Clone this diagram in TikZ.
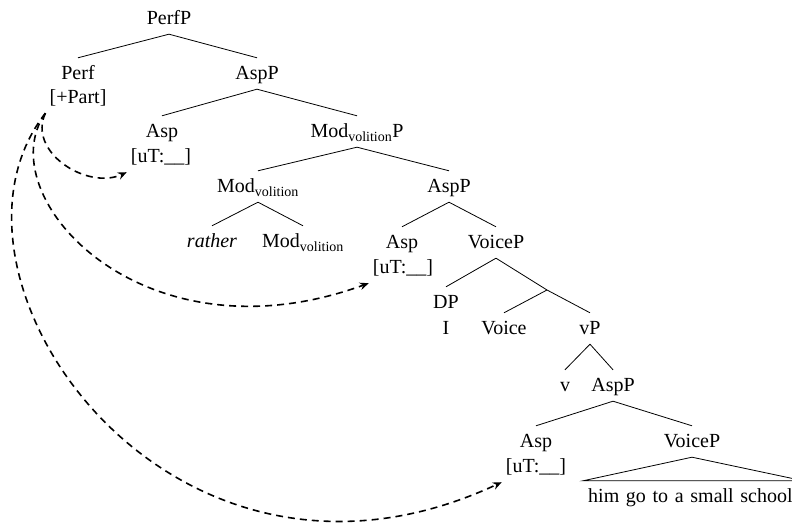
\documentclass[tikz,border=0pt]{standalone}
\usepackage{fontspec}
\setmainfont{Liberation Serif}
\usetikzlibrary{arrows.meta, positioning}

\begin{document}
\begin{tikzpicture}[
    x=1pt, y=1pt,
    cat/.style={anchor=base, font=\fontsize{20}{24}\selectfont, inner xsep=4pt, inner ysep=5pt, text height=17pt, text depth=4pt},
    branch/.style={line width=0.8pt},
    move/.style={-{Stealth[length=9pt, width=7.5pt, inset=3pt]}, line width=1.6pt, dash pattern=on 7pt off 5pt},
    every node/.style={cat}
]
\useasboundingbox (0,0) rectangle (792,529);

% Top: PerfP and its daughters
\node (perfp) at (169,504) {PerfP};
\node (perf) at (78,449) {Perf};
\node (perffeat) at (78,425) {[+Part]};
\node (aspp) at (257,449) {AspP};

\draw[branch] (perfp.south) -- (perf.north);
\draw[branch] (perfp.south) -- (aspp.north);

% AspP: Asp and Mod_volition P
\node (asp) at (162,391) {Asp};
\node (aspfeat) at (161,366) {[uT:\_\_]};
\node (modp) at (357,391) {Mod\textsubscript{volition}P};

\draw[branch] (aspp.south) -- (asp.north);
\draw[branch] (aspp.south) -- (modp.north);

% Mod_volition P
\node (mod) at (258,336) {Mod\textsubscript{volition}};
\node (aspptwo) at (449,336) {AspP};
\node (rather) at (212,281) {\textit{rather}};
\node (modhead) at (303,281) {Mod\textsubscript{volition}};

\draw[branch] (modp.south) -- (mod.north);
\draw[branch] (modp.south) -- (aspptwo.north);
\draw[branch] (mod.south) -- (rather.north);
\draw[branch] (mod.south) -- (modhead.north);

% Lower AspP and VoiceP
\node (asptwo) at (402,280) {Asp};
\node (asptwofeat) at (403,255) {[uT:\_\_]};
\node (voicep) at (496,280) {VoiceP};

\draw[branch] (aspptwo.south) -- (asptwo.north);
\draw[branch] (aspptwo.south) -- (voicep.north);

\node (dp) at (446,220) {DP};
\node (dpi) at (446,194) {I};
\coordinate (vbar) at (547,239);
\node (voice) at (504,194) {Voice};
\node (vp) at (590,194) {vP};

\draw[branch] (voicep.south) -- (dp.north);
\draw[branch] (voicep.south) -- (vbar) -- (vp.north);
\draw[branch] (vbar) -- (voice.north);

% vP
\node (v) at (565,137) {v};
\node (asppthree) at (613,137) {AspP};

\draw[branch] (vp.south) -- (v.north);
\draw[branch] (vp.south) -- (asppthree.north);

\node (aspthree) at (536,81) {Asp};
\node (aspthreefeat) at (536,56) {[uT:\_\_]};
\node (voicepthree) at (692,81) {VoiceP};
\node[anchor=base west, text width=210pt, align=left, inner xsep=5pt] (yield) at (583,26) {him go to a small school};

\draw[branch] (asppthree.south) -- (aspthree.north);
\draw[branch] (asppthree.south) -- (voicepthree.north);
\draw[branch] (voicepthree.south) -- (yield.north west) -- (yield.north east) -- cycle;

% Movement arrows from Perf
\draw[move] (perffeat.south west) to[out=245, in=205, looseness=1.1] (aspfeat.south west);
\draw[move] (perffeat.south west) to[out=235, in=200, out looseness=0.7, in looseness=1.7] (asptwofeat.south west);
\draw[move] (perffeat.south west) to[out=232, in=205, out looseness=0.9, in looseness=1.6] (aspthreefeat.south west);

\end{tikzpicture}
\end{document}
